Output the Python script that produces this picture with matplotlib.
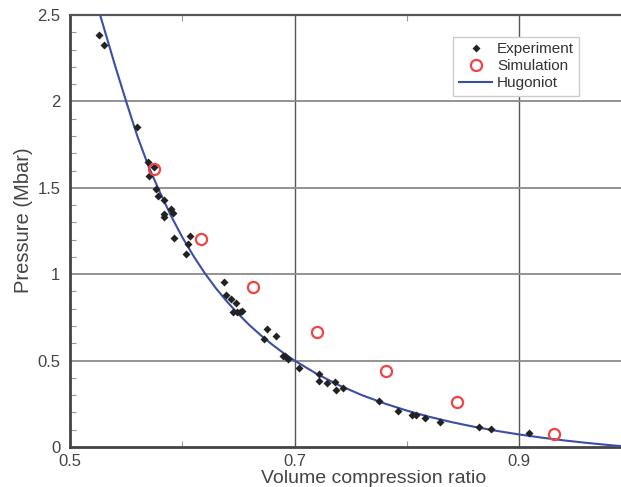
import numpy as np
import matplotlib
matplotlib.use("Agg")
import matplotlib.pyplot as plt
from matplotlib.ticker import MultipleLocator

plt.rcParams['font.family'] = ['Liberation Sans', 'DejaVu Sans']

# ------------------------
# Data
# ------------------------
exp_x = [0.5255, 0.5306, 0.5597, 0.5697, 0.5751, 0.5706, 0.5769, 0.5784, 0.5834,
         0.5899, 0.5914, 0.5837, 0.5840, 0.5926, 0.6069, 0.6048, 0.6033, 0.6374,
         0.6386, 0.6434, 0.6478, 0.6455, 0.6484, 0.6514, 0.6530, 0.6754, 0.6728,
         0.6837, 0.6894, 0.6917, 0.6944, 0.7042, 0.7220, 0.7217, 0.7286, 0.7357,
         0.7366, 0.7428, 0.7749, 0.7918, 0.8049, 0.8084, 0.8164, 0.8297, 0.8639,
         0.8746, 0.9087]
exp_y = [2.384, 2.324, 1.854, 1.649, 1.620, 1.570, 1.491, 1.450, 1.431,
         1.375, 1.355, 1.346, 1.330, 1.208, 1.222, 1.172, 1.118, 0.955,
         0.878, 0.858, 0.831, 0.781, 0.781, 0.781, 0.785, 0.680, 0.625,
         0.644, 0.528, 0.524, 0.512, 0.460, 0.421, 0.383, 0.373, 0.377,
         0.329, 0.340, 0.265, 0.211, 0.186, 0.186, 0.170, 0.147, 0.116,
         0.106, 0.081]

sim_x = [0.5751, 0.6167, 0.6627, 0.7199, 0.7811, 0.8449, 0.9313]
sim_y = [1.608, 1.201, 0.924, 0.663, 0.441, 0.261, 0.075]

hug_x = [0.525, 0.53, 0.54, 0.55, 0.56, 0.57, 0.58, 0.59, 0.60, 0.61, 0.62, 0.63,
         0.64, 0.65, 0.66, 0.67, 0.68, 0.69, 0.70, 0.72, 0.74, 0.76, 0.78, 0.80,
         0.82, 0.84, 0.86, 0.88, 0.90, 0.92, 0.94, 0.96, 0.98, 0.99]
hug_y = [2.54, 2.43, 2.21, 2.00, 1.798, 1.623, 1.475, 1.337, 1.214, 1.105, 1.006, 0.918,
         0.840, 0.769, 0.704, 0.646, 0.593, 0.544, 0.500, 0.422, 0.356, 0.300, 0.252, 0.2105,
         0.1748, 0.1438, 0.1168, 0.0932, 0.0725, 0.0542, 0.0381, 0.0239, 0.0112, 0.0055]

# ------------------------
# Plot
# ------------------------
fig = plt.figure(figsize=(6.21, 4.87), dpi=100)
ax = fig.add_axes([70 / 621, 40 / 487, 551 / 621, 432 / 487])

ax.plot(hug_x, hug_y, color='#3b4ea6', lw=1.5, label='Hugoniot', zorder=3)
ax.plot(exp_x, exp_y, 'D', color='#222222', ms=4.2, mec='none', label='Experiment', zorder=4)
ax.plot(sim_x, sim_y, 'o', mfc='none', mec='#ef4444', mew=1.6, ms=8, label='Simulation', zorder=5)

ax.set_xlim(0.5, 0.5 + 551 / 1123)
ax.set_ylim(0, 2.5)

ax.xaxis.set_minor_locator(MultipleLocator(0.1))
ax.yaxis.set_minor_locator(MultipleLocator(0.1))
ax.set_xticks([0.5, 0.7, 0.9])
ax.set_xticklabels(['0.5', '0.7', '0.9'])
ax.set_yticks([0, 0.5, 1, 1.5, 2, 2.5])
ax.set_yticklabels(['0', '0.5', '1', '1.5', '2', '2.5'])

ax.tick_params(which='major', length=0, labelsize=12, labelcolor='#444444', pad=7)
ax.tick_params(which='minor', direction='in', length=4, width=0.8, color='#999999',
               top=True, left=True, bottom=True)
ax.tick_params(axis='x', which='major', pad=5)

for v in [0.7, 0.9]:
    ax.axvline(v, color='#555555', lw=1.0, zorder=1)
for h in [0.5, 1.0, 1.5, 2.0]:
    ax.axhline(h, color='#8a8a8a', lw=1.3, zorder=1)

for side in ['left', 'bottom']:
    ax.spines[side].set_linewidth(2.0)
    ax.spines[side].set_color('#444444')
ax.spines['top'].set_linewidth(1.6)
ax.spines['top'].set_color('#555555')
ax.spines['right'].set_visible(False)

ax.set_xlabel('Volume compression ratio', fontsize=14, color='#444444')
ax.set_ylabel('Pressure (Mbar)', fontsize=14.5, color='#444444')
ax.xaxis.set_label_coords(0.551, -0.053)
ax.yaxis.set_label_coords(-0.068, 0.525)

handles, labels = ax.get_legend_handles_labels()
order = [1, 2, 0]
leg = ax.legend([handles[i] for i in order], [labels[i] for i in order],
                loc='upper left', bbox_to_anchor=(0.682, 0.967), fontsize=11,
                frameon=True, fancybox=False, edgecolor='#cccccc', framealpha=1,
                handlelength=2.2, handletextpad=0.3, borderpad=0.35, labelspacing=0.2)
for t in leg.get_texts():
    t.set_color('#333333')
leg.get_frame().set_linewidth(1.0)

fig.savefig('out.png', dpi=100)
